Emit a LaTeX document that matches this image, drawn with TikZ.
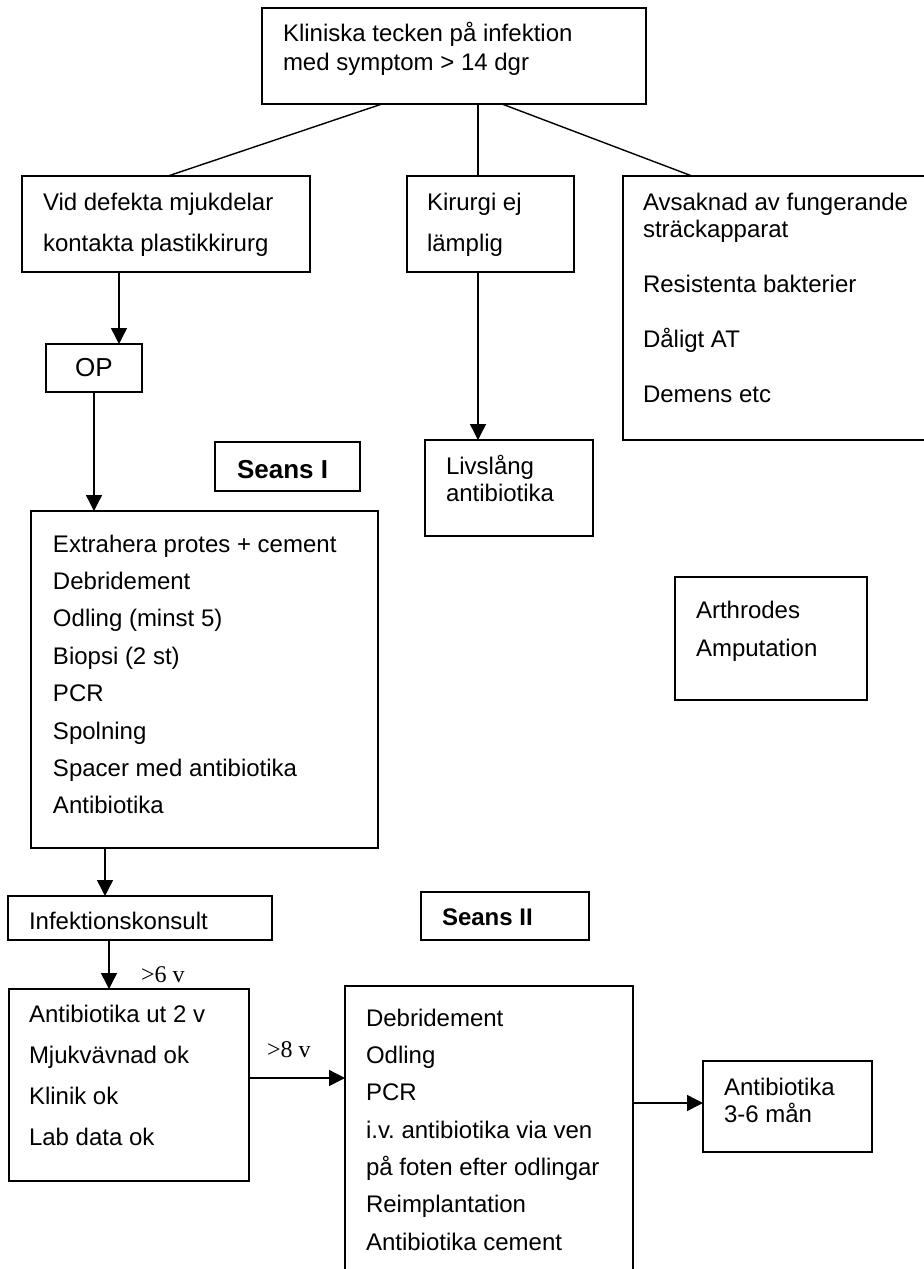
\documentclass[tikz,border=0pt]{standalone}
\usepackage{fontspec}
\setmainfont{Liberation Sans}
\newfontfamily\serifv{Liberation Serif}
\usetikzlibrary{arrows.meta}
\frenchspacing
\newcommand\BoxAt[5]{\node[box, minimum width={(#4-#2)*0.5pt}, minimum height={(#5-#3)*0.5pt}] (#1) at ({(#2+#4)/2},{(#3+#5)/2}) {};}
\newcommand\Lines[1]{\begin{tabular}[t]{@{}l@{}}#1\end{tabular}}
\begin{document}
\begin{tikzpicture}[x=0.5pt,y=-0.5pt,
  box/.style={draw, line width=0.8pt, inner sep=0pt, outer sep=0pt},
  txt/.style={anchor=base west, inner sep=0pt, outer sep=0pt},
  conn/.style={line width=0.7pt},
  arr/.style={conn, -{Triangle[length=8pt,width=8pt]}}]
\useasboundingbox (0,0) rectangle (923,1269);

% boxes
\BoxAt{top}{262}{8}{646}{104}
\BoxAt{vid}{22}{176}{310}{272}
\BoxAt{kir}{407}{176}{574}{272}
\BoxAt{avs}{623}{176}{960}{440}
\node[box, minimum width=48pt, minimum height=24pt, font=\fontsize{13}{15}\selectfont] (op) at (94,368) {OP};
\BoxAt{seansI}{215}{442}{360}{491}
\BoxAt{liv}{425}{440}{593}{536}
\BoxAt{main}{31}{511}{378}{848}
\BoxAt{arth}{675}{577}{867}{700}
\BoxAt{infk}{8}{896}{272}{940}
\BoxAt{seansII}{421}{892}{589}{940}
\BoxAt{abut}{9}{989}{249}{1181}
\BoxAt{sbox}{345}{986}{633}{1310}
\BoxAt{ab36}{703}{1061}{872}{1152}

% texts
\node[txt, font=\fontsize{12}{14.5}\selectfont] (ttop) at (283,41) {\Lines{Kliniska tecken på infektion\\ med symptom > 14 dgr}};
\node[txt, font=\fontsize{12}{20.5}\selectfont] (tvid) at (43,210) {\Lines{Vid defekta mjukdelar\\ kontakta plastikkirurg}};
\node[txt, font=\fontsize{12}{20.5}\selectfont] (tkir) at (427,210) {\Lines{Kirurgi ej\\ lämplig}};
\node[txt, font=\fontsize{12}{13.5}\selectfont] (tavs) at (643,210) {\Lines{Avsaknad av fungerande\\ sträckapparat\\[14pt] Resistenta bakterier\\[14pt] Dåligt AT\\[14pt] Demens etc}};
\node[txt, font=\bfseries\fontsize{13}{15}\selectfont] (tseansI) at (237,478) {Seans I};
\node[txt, font=\fontsize{12}{13.5}\selectfont] (tliv) at (446,474) {\Lines{Livslång\\ antibiotika}};
\node[txt, font=\fontsize{12}{18.7}\selectfont] (tmain) at (53,552) {\Lines{Extrahera protes + cement\\ Debridement\\ Odling (minst 5)\\ Biopsi (2 st)\\ PCR\\ Spolning\\ Spacer med antibiotika\\ Antibiotika}};
\node[txt, font=\fontsize{12}{19}\selectfont] (tarth) at (696,618) {\Lines{Arthrodes\\ Amputation}};
\node[txt, font=\fontsize{12}{14}\selectfont] (tinfk) at (29,929) {Infektionskonsult};
\node[txt, font=\bfseries\fontsize{12}{14}\selectfont] (tseansII) at (442,925) {Seans II};
\node[txt, font=\fontsize{12}{20.5}\selectfont] (tabut) at (29,1022) {\Lines{Antibiotika ut 2 v\\ Mjukvävnad ok\\ Klinik ok\\ Lab data ok}};
\node[txt, font=\fontsize{12}{18.67}\selectfont] (tsbox) at (366,1026) {\Lines{Debridement\\ Odling\\ PCR\\ i.v. antibiotika via ven\\ på foten efter odlingar\\ Reimplantation\\ Antibiotika cement}};
\node[txt, font=\fontsize{12}{13.5}\selectfont] (tab36) at (724,1095) {\Lines{Antibiotika\\ 3-6 mån}};
\node[txt, font=\serifv\fontsize{12}{14}\selectfont] (l6) at (141,982) {>6 v};
\node[txt, font=\serifv\fontsize{12}{14}\selectfont] (l8) at (267,1057) {>8 v};

% connectors
\draw[conn] ([xshift=60pt]top.south west) -- ([xshift=73pt]vid.north west);
\draw[conn] ([xshift=108pt]top.south west) -- ([xshift=35.5pt]kir.north west);
\draw[conn] ([xshift=120pt]top.south west) -- ([xshift=34.5pt]avs.north west);
\draw[arr] ([xshift=48.5pt]vid.south west) -- ([xshift=36.5pt]op.north west);
\draw[arr] (op.south) -- ([xshift=31.5pt]main.north west);
\draw[arr] ([xshift=35.5pt]kir.south west) -- ([xshift=26.5pt]liv.north west);
\draw[arr] ([xshift=37pt]main.south west) -- ([xshift=48.5pt]infk.north west);
\draw[arr] ([xshift=50.5pt]infk.south west) -- ([xshift=50pt]abut.north west);
\draw[arr] ([yshift=-44.5pt]abut.north east) -- ([yshift=-46pt]sbox.north west);
\draw[arr] ([yshift=-58.5pt]sbox.north east) -- ([yshift=-21pt]ab36.north west);
\end{tikzpicture}
\end{document}
